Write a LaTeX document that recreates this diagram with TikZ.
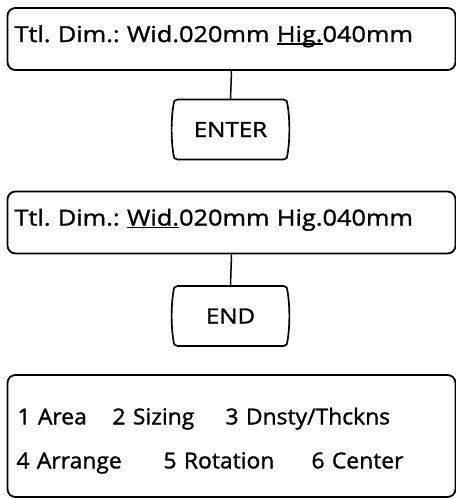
\documentclass[tikz,border=0pt]{standalone}
\usepackage{fontspec}
\setmainfont{Open Sans}[FakeStretch=1.15, FakeBold=1.3]
\newfontfamily\menufont{Open Sans}[FakeStretch=1.04, FakeBold=1.3]
\usetikzlibrary{calc}
\frenchspacing
\newsavebox{\ulbox}
\newcommand{\ulword}[1]{\sbox{\ulbox}{#1}\rlap{\rule[-2.6pt]{\wd\ulbox}{1.3pt}}\usebox{\ulbox}}
\newcommand{\keyoutline}[1]{%
  \draw[keyline, shift={(#1.center)}]
    (-53,-30) -- (53,-30) .. controls (56,-30) and (57,-28) .. (57,-25)
    .. controls (59.5,-10) and (59.5,10) .. (57,25)
    .. controls (57,28) and (56,30) .. (53,30) -- (-53,30)
    .. controls (-56,30) and (-57,28) .. (-57,25)
    .. controls (-59.5,10) and (-59.5,-10) .. (-57,-25)
    .. controls (-57,-28) and (-56,-30) .. (-53,-30) -- cycle;}
\tikzset{
  dimbox/.style={
    draw, line width=1.8pt, rounded corners=8pt,
    minimum height=62pt, text width=434pt, inner xsep=7pt,
    text height=15pt, text depth=9pt,
    align=left, font=\fontsize{22}{24}\selectfont
  },
  menubox/.style={
    draw, line width=1.8pt, rounded corners=8pt,
    minimum height=122pt, text width=434pt, inner xsep=7pt,
    align=left, font=\menufont\fontsize{22}{44}\selectfont
  },
  keycap/.style={
    minimum width=114pt, minimum height=60pt, inner sep=0pt,
    font=\fontsize{21}{24}\selectfont
  },
  keyline/.style={line width=1.7pt},
  conn/.style={line width=1.5pt}
}
\begin{document}
\begin{tikzpicture}[x=1pt,y=-1pt]
\useasboundingbox (0,0) rectangle (456,499);

\node[dimbox] (dimA) at (231.5,39) {Ttl. Dim.: Wid.020mm \ulword{Hig.}040mm};
\node[keycap] (enter) at (230.5,129.5) {ENTER};
\keyoutline{enter}
\draw[conn] (dimA.south) -- (enter.north);

\node[dimbox] (dimB) at (231.5,222.5) {Ttl. Dim.: \ulword{Wid.}020mm Hig.040mm};
\node[keycap] (endkey) at (230.5,316) {END};
\keyoutline{endkey}
\draw[conn] (dimB.south) -- (endkey.north);

\node[menubox] (menu) at (231.5,436) {\rule{0pt}{26pt}\hspace*{3pt}\makebox[95pt][l]{1 Area}\makebox[113pt][l]{2 Sizing}3 Dnsty/Thckns\\
\hspace*{2pt}\makebox[147pt][l]{4 Arrange}\makebox[148pt][l]{5 Rotation}6 Center};
\end{tikzpicture}
\end{document}
